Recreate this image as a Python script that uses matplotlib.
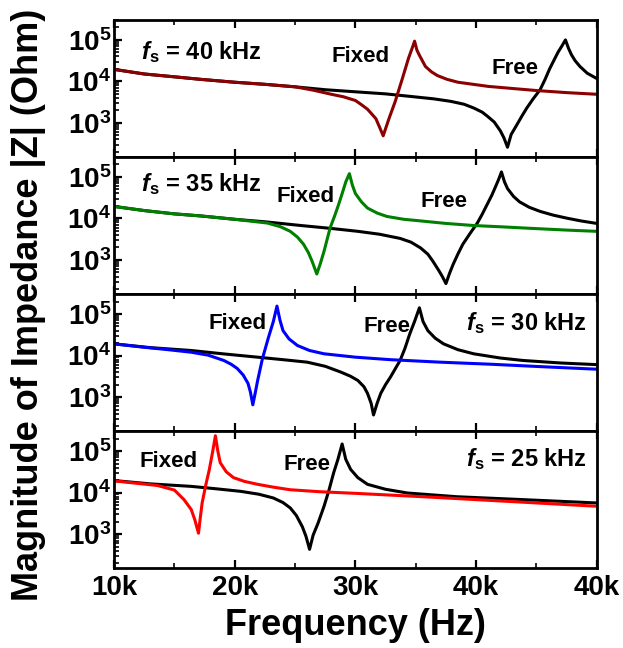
import numpy as np
import matplotlib
matplotlib.use("Agg")
import matplotlib.pyplot as plt
from matplotlib.ticker import FixedLocator, LogLocator, NullFormatter, FuncFormatter

plt.rcParams.update({
    'font.family': 'Liberation Sans',
    'font.weight': 'bold',
    'mathtext.fontset': 'custom',
    'mathtext.rm': 'Liberation Sans:bold',
    'mathtext.bf': 'Liberation Sans:bold',
    'mathtext.it': 'Liberation Sans:italic:bold',
    'mathtext.bfit': 'Liberation Sans:italic:bold',
})

# |Z|: frequency in kHz, impedance in Ohm
# fs = 40 kHz
free40_khz = [10, 12.5, 15, 17.2, 20, 22.5, 25, 27.5, 30, 32.5, 34.5, 36.5, 37.9, 39, 39.8,
              40.5, 40.9, 41.5, 42.0, 42.3, 42.6, 42.9, 43.4, 43.8, 44.2, 44.7, 45.3, 45.7,
              46.1, 46.5, 46.8, 47.1, 47.4, 47.65, 47.9, 48.2, 48.6, 49.2, 50]
free40_ohm = [19500, 15100, 12900, 11200, 9550, 8510, 7410, 6310, 5620, 5010, 4370, 3800, 3310, 2820, 2290,
              1820, 1480, 1050, 650, 440, 260, 525, 930, 1480, 2290, 3720, 6310, 11000,
              20400, 34700, 51300, 70800, 100000, 63100, 43700, 31600, 22900, 15800, 11700]
fixed40_khz = [10, 12.5, 15, 17.2, 20, 22.5, 25, 26.5, 28, 29, 30, 30.5, 31, 31.4, 31.7,
               32.0, 32.3, 32.6, 32.8, 33.3, 33.9, 34.4, 34.7, 34.9, 35.1, 35.3, 35.8, 36.3,
               36.8, 37.6, 38.5, 40, 41, 43, 45, 47.5, 50]
fixed40_ohm = [19500, 15100, 12900, 11200, 9550, 8510, 7410, 6160, 4900, 4270, 3470, 2750, 2140, 1585, 1260,
               790, 490, 890, 1320, 3310, 12000, 36300, 63100, 93300, 56200, 42700, 22900, 17000,
               13800, 11200, 9550, 8320, 7590, 6760, 6030, 5370, 4900]

# fs = 35 kHz
free35_khz = [10, 12.5, 15, 17.2, 20, 22.5, 25.5, 28, 30.2, 32, 33.7, 34.6, 35.4, 36.0, 36.4,
              36.9, 37.2, 37.5, 37.8, 38.1, 38.5, 38.9, 39.5, 40.1, 40.5, 40.9, 41.3, 41.6,
              41.85, 42.1, 42.35, 42.6, 43.1, 43.6, 44.4, 45.3, 46.4, 47.5, 48.7, 50]
free35_ohm = [19500, 15500, 12900, 11500, 9550, 8320, 6760, 5750, 4900, 4170, 3310, 2690, 1950, 1380, 950,
              562, 400, 270, 479, 790, 1410, 2400, 4370, 7760, 12600, 21400, 36300, 57500,
              85100, 132000, 75900, 52500, 33900, 25100, 18600, 14800, 12000, 10200, 8710, 7590]
fixed35_khz = [10, 12.5, 15, 17.2, 20, 22.7, 23.8, 24.6, 25.2, 25.7, 26.1, 26.4, 26.6, 26.8, 27.1,
               27.4, 27.9, 28.3, 28.6, 28.9, 29.2, 29.5, 29.75, 30.0, 30.5, 31.0, 31.8, 32.6,
               34, 35.1, 37.5, 39.8, 42, 44.7, 47.5, 50]
fixed35_ohm = [19500, 15500, 12900, 11500, 9550, 7760, 6310, 4900, 3550, 2400, 1510, 950, 660, 460, 830,
               1620, 5890, 12000, 21400, 39800, 75900, 120000, 63100, 39800, 25100, 17800, 13500, 11200,
               9550, 8910, 7590, 6760, 6310, 5750, 5250, 4900]

# fs = 30 kHz
free30_khz = [10, 13, 16.4, 19, 21.9, 24, 26.0, 27.5, 28.8, 29.6, 30.2, 30.7, 31.0, 31.3, 31.5,
              31.8, 32.1, 32.5, 32.9, 33.3, 33.7, 34.1, 34.5, 34.9, 35.3, 35.6, 36.0, 36.6,
              37.3, 38.5, 39.8, 42, 43.9, 47, 50]
free30_ohm = [19100, 15500, 13200, 11000, 9120, 7940, 6920, 5500, 3980, 3160, 2510, 1780, 1230, 710, 370,
              710, 1230, 2000, 3020, 4790, 7590, 14800, 33100, 66100, 141000, 66100, 39800, 26300,
              19100, 13800, 11000, 8710, 7590, 6610, 6030]
fixed30_khz = [10, 12.5, 14.5, 16.4, 17.8, 19.1, 19.7, 20.2, 20.7, 21.1, 21.3, 21.5, 21.7, 21.9, 22.3,
               22.8, 23.2, 23.5, 23.75, 24.0, 24.5, 25.2, 26.2, 27.4, 30, 32.9, 37, 41.2, 45.5, 50]
fixed30_ohm = [19100, 15800, 13800, 12000, 10200, 7590, 6170, 4900, 3390, 2140, 1320, 650, 1260, 2510, 8510,
               27500, 66100, 155000, 70800, 39800, 25100, 17400, 13200, 11000, 9120, 7940, 6920, 6170, 5370, 4680]

# fs = 25 kHz
free25_khz = [10, 13, 16.4, 18.5, 20.5, 22, 23.2, 24.0, 24.6, 25.1, 25.6, 25.9, 26.2, 26.5, 26.9,
              27.4, 27.8, 28.2, 28.55, 28.9, 29.2, 29.6, 30.2, 31.0, 32.5, 34.3, 38.4, 43.9, 50]
free25_ohm = [19500, 16200, 14100, 12300, 10700, 9120, 7410, 5750, 4270, 2820, 1510, 890, 430, 950, 1820,
              4680, 11200, 30200, 63100, 148000, 63100, 36300, 22900, 15800, 12000, 9770, 7940, 6760, 5620]
fixed25_khz = [10, 12, 13.6, 15.0, 15.8, 16.4, 16.7, 16.85, 17.0, 17.15, 17.3, 17.6, 17.9, 18.15,
               18.4, 18.6, 18.8, 19.3, 19.9, 20.8, 21.9, 23.2, 24.6, 27, 30.1, 35.6, 42.5, 50]
fixed25_ohm = [19100, 16600, 14800, 11500, 6760, 3890, 2190, 1510, 1050, 2510, 5620, 15100, 36300, 89100,
               234000, 100000, 52500, 31600, 22900, 18600, 15800, 13500, 11700, 10500, 9550, 7940, 6170, 4680]

panels = [
    (free40_khz, free40_ohm, fixed40_khz, fixed40_ohm, '#8b0000', '40'),
    (free35_khz, free35_ohm, fixed35_khz, fixed35_ohm, '#008000', '35'),
    (free30_khz, free30_ohm, fixed30_khz, fixed30_ohm, '#0000ff', '30'),
    (free25_khz, free25_ohm, fixed25_khz, fixed25_ohm, '#ff0000', '25'),
]

# label placement (kHz, Ohm) for "fs", "Fixed", "Free"
fs_pos = [(12.2, 5.2e4, 'left'), (12.2, 6.8e4, 'left'), (49.2, 6.2e4, 'right'), (49.2, 6.3e4, 'right')]
fixed_pos = [(30.4, 4.0e4), (25.9, 3.3e4), (20.2, 5.8e4), (14.5, 5.6e4)]
free_pos = [(43.2, 2.0e4), (37.3, 2.5e4), (32.6, 4.9e4), (26.0, 4.8e4)]

xticks_khz = [10, 20, 30, 40, 50]
xtick_labels = ['10k', '20k', '30k', '40k', '40k']

fig, axes = plt.subplots(4, 1, sharex=True, figsize=(6.23, 6.48), dpi=100)
fig.subplots_adjust(left=0.183, right=0.958, top=0.969, bottom=0.123, hspace=0)

for i, ax in enumerate(axes):
    f_free, z_free, f_fix, z_fix, color, fs = panels[i]
    ax.plot(np.array(f_free) * 1000, z_free, color='black', lw=2.2)
    ax.plot(np.array(f_fix) * 1000, z_fix, color=color, lw=2.2)
    ax.set_yscale('log')
    ax.set_ylim(150, 3e5)
    ax.set_xlim(10000, 50000)

    ax.yaxis.set_major_locator(FixedLocator([1e3, 1e4, 1e5]))
    ax.yaxis.set_major_formatter(FuncFormatter(lambda v, p: r'$\mathbf{10^{%d}}$' % round(np.log10(v))))
    ax.yaxis.set_minor_locator(LogLocator(base=10, subs=np.arange(2, 10)))
    ax.yaxis.set_minor_formatter(NullFormatter())
    ax.xaxis.set_major_locator(FixedLocator([x * 1000 for x in xticks_khz]))
    ax.xaxis.set_minor_locator(FixedLocator([15000, 25000, 35000, 45000]))

    ax.tick_params(which='both', direction='in', top=True, right=False)
    ax.tick_params(which='major', length=6, width=1.6)
    ax.tick_params(which='minor', length=3.5, width=1.2)
    ax.tick_params(axis='y', labelsize=20, pad=2)
    ax.tick_params(axis='x', labelsize=20)
    for s in ax.spines.values():
        s.set_linewidth(2)

    x, y, ha = fs_pos[i]
    ax.text(x * 1000, y, r'$\mathbfit{f}_\mathbf{s}$ = ' + fs + ' kHz', ha=ha, va='center',
            fontsize=17, fontweight='bold')
    ax.text(fixed_pos[i][0] * 1000, fixed_pos[i][1], 'Fixed', ha='center', va='center',
            fontsize=16, fontweight='bold')
    ax.text(free_pos[i][0] * 1000, free_pos[i][1], 'Free', ha='center', va='center',
            fontsize=16, fontweight='bold')

axes[-1].set_xticklabels(xtick_labels)
axes[-1].tick_params(axis='x', pad=5)
axes[-1].set_xlabel('Frequency (Hz)', fontsize=26, fontweight='bold', labelpad=5)
fig.text(0.045, 0.53, 'Magnitude of Impedance |Z| (Ohm)', rotation=90, ha='center', va='center',
         fontsize=26, fontweight='bold')

fig.savefig('out.png', dpi=100)
